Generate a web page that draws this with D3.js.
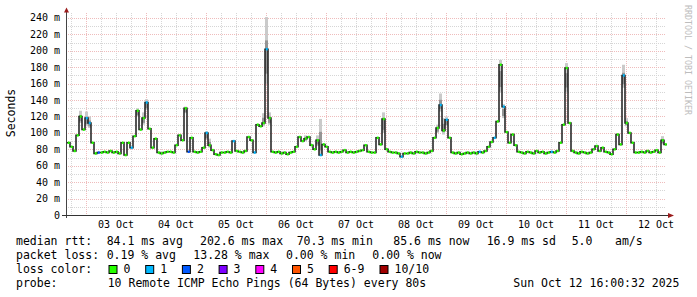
<!DOCTYPE html>
<html>
<head>
<meta charset="utf-8">
<script src="https://cdn.jsdelivr.net/npm/d3@7"></script>
<style>
  body { margin: 0; background: #fff; }
  svg text { font-family: "DejaVu Sans Mono", monospace; fill: #000; }
</style>
</head>
<body>
<svg id="chart" width="697" height="297"></svg>
<script>
// median rtt in ms, one sample every 72 minutes starting 02 Oct 16:24
const median = [
  88, 83, 78, 97, 120, 104, 118, 112, 88, 75,
  76, 76, 77, 76, 78, 76, 77, 75, 88, 73,
  88, 82, 96, 127, 104, 118, 137, 105, 82, 93,
  76, 75, 76, 77, 77, 76, 85, 97, 91, 130,
  77, 94, 77, 76, 77, 82, 100, 85, 79, 74,
  73, 76, 76, 77, 76, 90, 78, 77, 76, 78,
  95, 91, 76, 110, 108, 112, 202, 118, 77, 76,
  77, 75, 76, 74, 76, 77, 83, 95, 90, 93,
  95, 85, 80, 91, 73, 86, 83, 77, 76, 77,
  76, 77, 79, 76, 77, 76, 77, 78, 79, 85,
  77, 76, 76, 94, 86, 117, 80, 77, 76, 76,
  75, 71, 75, 75, 76, 75, 77, 76, 76, 75,
  76, 78, 94, 106, 134, 103, 116, 94, 76, 75,
  76, 74, 75, 76, 75, 76, 75, 77, 76, 78,
  83, 89, 94, 114, 183, 132, 101, 88, 98, 85,
  77, 76, 75, 77, 76, 75, 78, 76, 77, 75,
  76, 77, 76, 78, 88, 110, 179, 112, 78, 76,
  75, 77, 76, 75, 76, 80, 84, 78, 82, 77,
  76, 74, 80, 98, 86, 170, 112, 100, 88, 76,
  76, 77, 76, 78, 76, 77, 79, 76, 91, 86
];

// samples that lost pings (index into median, pings lost of 10)
const lossIdx = [6, 7, 10, 21, 26, 40, 46, 55, 62, 66, 84, 111, 124, 126, 137, 142, 145, 161, 185];
const lossVal = [1, 1, 2, 1, 1, 2, 1, 1, 1, 1, 1, 1, 1, 1, 1, 1, 1, 1, 1];

// smoke: spread of the 10 pings where it shows (ms)
const smokeIdx = [4, 6, 7, 23, 25, 26, 39, 46, 47, 65, 66, 67, 79, 83, 84, 105, 123, 124, 125, 126, 144, 145, 166, 185, 186, 198];
const smokeLo = [112, 108, 106, 120, 110, 128, 124, 92, 82, 108, 160, 110, 90, 84, 72, 100, 100, 126, 98, 108, 150, 118, 150, 155, 108, 86];
const smokeHi = [127, 126, 120, 130, 125, 141, 132, 102, 93, 124, 241, 125, 97, 97, 117, 125, 110, 148, 118, 120, 189, 135, 185, 183, 118, 96];

const lossLabels = ["0", "1", "2", "3", "4", "5", "6-9", "10/10"];
const lossColors = ["#26ff00", "#00b8ff", "#0059ff", "#7e00ff", "#ff00ff", "#ff5500", "#ff0000", "#a10000"];

const yTicks = [0, 20, 40, 60, 80, 100, 120, 140, 160, 180, 200, 220, 240];
const yMax = 243.6;

const startTime = new Date(Date.UTC(2025, 9, 2, 16, 0, 32));
const endTime = new Date(Date.UTC(2025, 9, 12, 16, 0, 32));
const stepMs = 72 * 60 * 1000;
const firstSample = new Date(startTime.getTime() + 24 * 60 * 1000);

const plot = { left: 66, right: 666, top: 15, bottom: 215 };

const svg = d3.select("#chart");
svg.append("rect").attr("width", 697).attr("height", 297).attr("fill", "#fff");

const x = d3.scaleUtc().domain([startTime, endTime]).range([plot.left, plot.right]);
const y = d3.scaleLinear().domain([0, yMax]).range([plot.bottom, plot.top]);

const t = i => new Date(firstSample.getTime() + i * stepMs);

// grid
const grid = svg.append("g");
const minorY = d3.range(10, 241, 10).filter(v => v % 20 !== 0);
grid.selectAll(".hminor").data(minorY).join("line")
  .attr("x1", plot.left).attr("x2", plot.right)
  .attr("y1", d => Math.round(y(d)) + 0.5).attr("y2", d => Math.round(y(d)) + 0.5)
  .attr("stroke", "#d6d6d6").attr("stroke-dasharray", "1,1");
const hours = d3.utcHour.every(6).range(startTime, endTime).filter(d => d.getUTCHours() !== 0);
grid.selectAll(".vminor").data(hours).join("line")
  .attr("x1", d => Math.round(x(d)) + 0.5).attr("x2", d => Math.round(x(d)) + 0.5)
  .attr("y1", plot.top - 2).attr("y2", plot.bottom)
  .attr("stroke", "#d6d6d6").attr("stroke-dasharray", "1,1");
grid.selectAll(".hmajor").data(yTicks.filter(d => d > 0)).join("line")
  .attr("x1", plot.left).attr("x2", plot.right)
  .attr("y1", d => Math.round(y(d)) + 0.5).attr("y2", d => Math.round(y(d)) + 0.5)
  .attr("stroke", "#efbcbc").attr("stroke-dasharray", "1,1");
const days = d3.utcDay.range(startTime, endTime);
grid.selectAll(".vmajor").data(days).join("line")
  .attr("x1", d => Math.round(x(d)) + 0.5).attr("x2", d => Math.round(x(d)) + 0.5)
  .attr("y1", plot.top - 2).attr("y2", plot.bottom)
  .attr("stroke", "#efbcbc").attr("stroke-dasharray", "1,1");

// smoke
const smoke = svg.append("g");
smoke.selectAll(".outer").data(smokeIdx).join("rect")
  .attr("x", (d) => x(t(d)))
  .attr("width", (d) => x(t(d + 1)) - x(t(d)))
  .attr("y", (d, i) => y(smokeHi[i]))
  .attr("height", (d, i) => y(smokeLo[i]) - y(smokeHi[i]))
  .attr("fill", "#cacaca");
smoke.selectAll(".inner").data(smokeIdx).join("rect")
  .attr("x", (d) => x(t(d)))
  .attr("width", (d) => x(t(d + 1)) - x(t(d)))
  .attr("y", (d, i) => y(smokeLo[i] + (smokeHi[i] - smokeLo[i]) * 0.65))
  .attr("height", (d, i) => y(smokeLo[i] + (smokeHi[i] - smokeLo[i]) * 0.15) - y(smokeLo[i] + (smokeHi[i] - smokeLo[i]) * 0.65))
  .attr("fill", "#959595");

// median line: dark steps, then coloured level per sample
const pts = median.map((v, i) => [x(t(i)), y(v)]);
pts.push([x(t(median.length)), y(median[median.length - 1])]);
svg.append("path")
  .attr("d", d3.line().curve(d3.curveStepAfter)(pts))
  .attr("fill", "none").attr("stroke", "#1c1c1c").attr("stroke-width", 1.5);

const lossOf = i => {
  const k = lossIdx.indexOf(i);
  return k < 0 ? 0 : lossVal[k];
};
const colourIndex = n => n <= 5 ? n : (n < 10 ? 6 : 7);
svg.append("g").selectAll("line").data(median).join("line")
  .attr("x1", (d, i) => x(t(i)) + 0.75).attr("x2", (d, i) => x(t(i + 1)) - 0.25)
  .attr("y1", d => y(d)).attr("y2", d => y(d))
  .attr("stroke", (d, i) => lossColors[colourIndex(lossOf(i))])
  .attr("stroke-width", 2.5);

// axes
const axis = svg.append("g");
axis.append("line").attr("x1", plot.left + 0.5).attr("x2", plot.left + 0.5)
  .attr("y1", plot.bottom + 3).attr("y2", 10).attr("stroke", "#444");
axis.append("line").attr("x1", plot.left - 4).attr("x2", plot.right + 3)
  .attr("y1", plot.bottom + 0.5).attr("y2", plot.bottom + 0.5).attr("stroke", "#333");
axis.append("path").attr("d", "M64,12.5 L69,12.5 L66.5,7.5 Z").attr("fill", "#9b1c1c");
axis.append("path").attr("d", "M668,213 L668,218 L674,215.5 Z").attr("fill", "#9b1c1c");

axis.selectAll(".ylab").data(yTicks).join("text")
  .attr("x", 60).attr("y", d => y(d)).attr("dy", "0.35em")
  .attr("text-anchor", "end").style("font-size", "10px")
  .text(d => d === 0 ? "0" : d + " m");

axis.selectAll(".xlab").data(days.filter(d => d > startTime)).join("text")
  .attr("x", d => x(d3.utcHour.offset(d, 12))).attr("y", 228)
  .attr("text-anchor", "middle").style("font-size", "10px")
  .text(d => d3.utcFormat("%d %b")(d));

svg.append("text")
  .attr("transform", "translate(15,113) rotate(-90)")
  .attr("text-anchor", "middle").style("font-size", "11.5px")
  .text("Seconds");

svg.append("text")
  .attr("transform", "translate(684.5,5) rotate(90)")
  .style("font-size", "8.3px").style("fill", "#bdbdbd")
  .text("RRDTOOL / TOBI OETIKER");

// legend
const legend = svg.append("g").style("font-size", "11.5px");
const rows = [
  { y: 245, items: [[16, "median rtt:"], [106.7, "84.1 ms avg"], [200, "202.6 ms max"], [296.7, "70.3 ms min"], [393.3, "85.6 ms now"], [486.7, "16.9 ms sd"], [571.7, "5.0"], [615, "am/s"]] },
  { y: 259, items: [[16, "packet loss:"], [106.7, "0.19 % avg"], [193.3, "13.28 % max"], [286, "0.00 % min"], [372.3, "0.00 % now"]] },
  { y: 273, items: [[16, "loss color:"]] },
  { y: 287, items: [[16, "probe:"], [107.7, "10 Remote ICMP Echo Pings (64 Bytes) every 80s"], [513.3, "Sun Oct 12 16:00:32 2025"]] }
];
rows.forEach(r => {
  legend.selectAll(null).data(r.items).join("text")
    .attr("x", d => d[0]).attr("y", r.y).attr("xml:space", "preserve")
    .text(d => d[1]);
});
const boxX = [108.5, 145.2, 181.9, 218.6, 255.3, 292, 328.7, 379.5];
legend.selectAll(".box").data(lossLabels).join("rect")
  .attr("x", (d, i) => boxX[i] + 0.5).attr("y", 265.5).attr("width", 8).attr("height", 8)
  .attr("fill", (d, i) => lossColors[i]).attr("stroke", "#000");
legend.selectAll(".boxlab").data(lossLabels).join("text")
  .attr("x", (d, i) => boxX[i] + 15).attr("y", 273)
  .text(d => d);
</script>
</body>
</html>
